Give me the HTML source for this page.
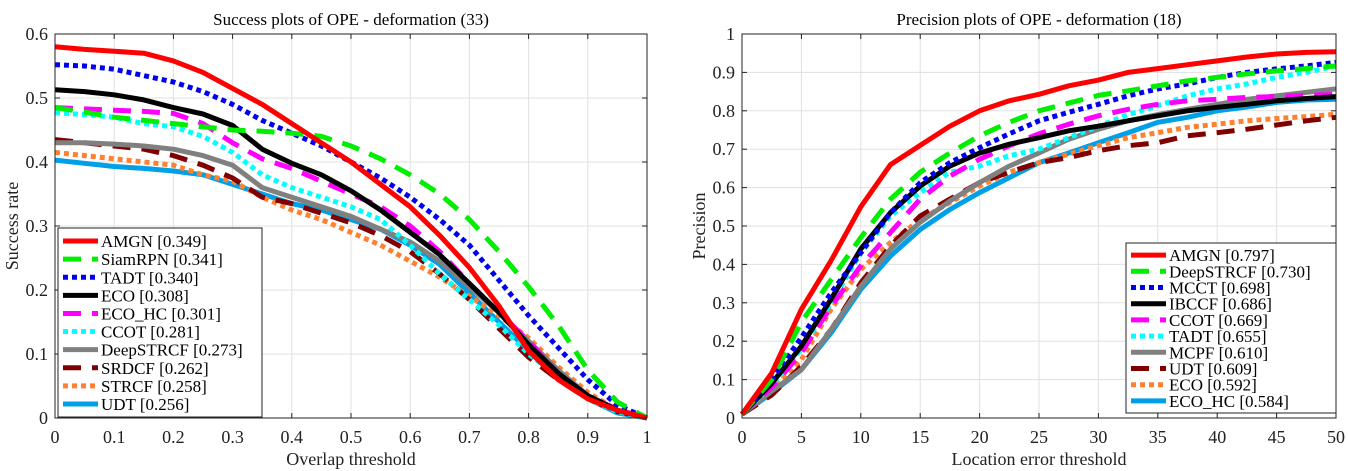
<!DOCTYPE html>
<html><head><meta charset="utf-8"><style>
body{margin:0;background:#fff;width:1348px;height:471px;overflow:hidden}
svg{display:block;font-family:"Liberation Serif",serif}
</style></head><body>
<svg id="chart" width="1348" height="471" xmlns="http://www.w3.org/2000/svg"></svg>
<script>
const sxVals=[0,0.05,0.1,0.15,0.2,0.25,0.3,0.35,0.4,0.45,0.5,0.55,0.6,0.65,0.7,0.75,0.8,0.85,0.9,0.95,1];
const sNames=["AMGN [0.349]","SiamRPN [0.341]","TADT [0.340]","ECO [0.308]","ECO_HC [0.301]","CCOT [0.281]","DeepSTRCF [0.273]","SRDCF [0.262]","STRCF [0.258]","UDT [0.256]"];
const sAMGN=[.58,.576,.573,.57,.558,.54,.515,.49,.46,.43,.40,.365,.33,.285,.235,.175,.105,.06,.03,.012,0];
const sSiam=[.485,.478,.47,.465,.46,.455,.45,.448,.445,.44,.425,.405,.38,.35,.31,.26,.205,.145,.075,.025,0];
const sTADT=[.552,.55,.545,.535,.525,.51,.49,.465,.445,.425,.40,.375,.345,.31,.27,.215,.16,.11,.06,.02,0];
const sECO=[.513,.51,.505,.497,.485,.475,.457,.42,.398,.38,.355,.325,.29,.255,.21,.165,.115,.07,.035,.012,0];
const sECOHC=[.485,.483,.481,.479,.476,.46,.43,.405,.39,.37,.35,.33,.30,.26,.21,.165,.12,.07,.035,.013,0];
const sCCOT=[.477,.474,.47,.46,.455,.44,.415,.38,.36,.345,.33,.31,.27,.225,.185,.145,.1,.065,.03,.01,0];
const sDeep=[.43,.43,.428,.425,.42,.41,.395,.36,.345,.33,.315,.295,.275,.245,.205,.165,.12,.075,.035,.012,0];
const sSRDCF=[.435,.43,.425,.42,.41,.395,.375,.345,.335,.32,.305,.285,.26,.225,.185,.14,.095,.06,.03,.01,0];
const sSTRCF=[.415,.41,.405,.4,.395,.38,.37,.345,.325,.31,.29,.27,.245,.22,.19,.16,.125,.08,.04,.012,0];
const sUDT=[.403,.398,.393,.39,.386,.38,.365,.35,.335,.325,.31,.295,.27,.24,.195,.15,.105,.065,.03,.008,0];
const pxVals=[0,2.5,5,7.5,10,12.5,15,17.5,20,22.5,25,27.5,30,32.5,35,37.5,40,42.5,45,47.5,50];
const pNames=["AMGN [0.797]","DeepSTRCF [0.730]","MCCT [0.698]","IBCCF [0.686]","CCOT [0.669]","TADT [0.655]","MCPF [0.610]","UDT [0.609]","ECO [0.592]","ECO_HC [0.584]"];
const pAMGN=[.01,.117,.283,.41,.55,.66,.71,.76,.80,.826,.843,.865,.88,.9,.91,.92,.93,.94,.948,.952,.954];
const pDeep=[.01,.1,.25,.36,.47,.57,.64,.69,.735,.77,.80,.82,.84,.852,.865,.878,.887,.896,.904,.91,.917];
const pMCCT=[.01,.1,.21,.326,.43,.535,.613,.665,.704,.74,.774,.796,.817,.839,.857,.87,.887,.9,.909,.917,.926];
const pIBCCF=[.01,.09,.187,.31,.44,.535,.604,.656,.69,.713,.73,.748,.76,.774,.787,.8,.809,.817,.826,.832,.837];
const pCCOT=[.01,.08,.17,.29,.396,.483,.57,.63,.674,.709,.74,.765,.787,.804,.817,.826,.83,.835,.837,.84,.843];
const pTADT=[.01,.085,.18,.3,.43,.526,.587,.64,.656,.683,.7,.73,.76,.79,.813,.839,.857,.87,.887,.9,.917];
const pMCPF=[.01,.07,.126,.23,.343,.44,.51,.565,.613,.656,.69,.726,.752,.774,.79,.804,.817,.83,.839,.848,.857];
const pUDT=[.01,.06,.135,.23,.352,.448,.526,.57,.613,.64,.665,.678,.696,.709,.717,.735,.743,.752,.763,.774,.783];
const pECO=[.01,.07,.152,.283,.387,.457,.517,.561,.604,.64,.665,.687,.709,.73,.743,.757,.765,.774,.78,.785,.791];
const pECOHC=[.01,.065,.126,.222,.335,.422,.491,.543,.587,.626,.665,.69,.717,.743,.77,.783,.8,.81,.822,.828,.83];
const sXTicks=["0","0.1","0.2","0.3","0.4","0.5","0.6","0.7","0.8","0.9","1"];
const sYTicks=["0","0.1","0.2","0.3","0.4","0.5","0.6"];
const pXTicks=["0","5","10","15","20","25","30","35","40","45","50"];
const pYTicks=["0","0.1","0.2","0.3","0.4","0.5","0.6","0.7","0.8","0.9","1"];

const NS="http://www.w3.org/2000/svg";
const svg=document.getElementById('chart');
function mk(tag,attrs,parent){const e=document.createElementNS(NS,tag);for(const k in attrs)e.setAttribute(k,attrs[k]);(parent||svg).appendChild(e);return e;}
const RED="#ff0000",GRN="#00ee00",BLU="#0000ee",BLK="#000",MAG="#ff00ff",CYN="#00ffff",GRY="#808080",MAR="#800000",ORG="#ff8030",SKY="#00a0e8";
const DASH="18 11",DOT="5 4";
const sCols=[[RED,null],[GRN,DASH],[BLU,DOT],[BLK,null],[MAG,DASH],[CYN,DOT],[GRY,null],[MAR,DASH],[ORG,DOT],[SKY,null]];
function plot(o){
  const g=mk('g',{});
  
  
  const X=v=>o.x0+(v-o.xmin)/(o.xmax-o.xmin)*(o.x1-o.x0);
  const Y=v=>o.y1-(v-o.ymin)/(o.ymax-o.ymin)*(o.y1-o.y0);
  o.xticks.forEach(t=>{const v=parseFloat(t);const x=X(v);
    const l=mk('line',{x1:x,x2:x,y1:o.y0,y2:o.y1,stroke:'#e0e0e0','stroke-width':1},g);
    
    const tx=mk('text',{x:x,y:o.y1+25,'font-size':18,'text-anchor':'middle',fill:'#222'},g);tx.textContent=t;
    
    mk('line',{x1:x,x2:x,y1:o.y1,y2:o.y1-5,stroke:'#222'},g);mk('line',{x1:x,x2:x,y1:o.y0,y2:o.y0+5,stroke:'#222'},g);});
  o.yticks.forEach(t=>{const v=parseFloat(t);const y=Y(v);
    const l=mk('line',{x1:o.x0,x2:o.x1,y1:y,y2:y,stroke:'#e0e0e0','stroke-width':1},g);
    
    const tx=mk('text',{x:o.x0-7,y:y+6,'font-size':18,'text-anchor':'end',fill:'#222'},g);tx.textContent=t;
    
    mk('line',{x1:o.x0,x2:o.x0+5,y1:y,y2:y,stroke:'#222'},g);mk('line',{x1:o.x1,x2:o.x1-5,y1:y,y2:y,stroke:'#222'},g);});
  for(let i=o.data.length-1;i>=0;i--){
    const vals=o.data[i];
    const pts=vals.map((v,j)=>X(o.xv[j]).toFixed(1)+','+Y(v).toFixed(1)).join(' ');
    const p=mk('polyline',{points:pts,fill:'none',stroke:sCols[i][0],'stroke-width':5,'stroke-linejoin':'round'},g);
    if(sCols[i][1])p.setAttribute('stroke-dasharray',sCols[i][1]);
    
    
  }
  const fr=mk('rect',{x:o.x0,y:o.y0,width:o.x1-o.x0,height:o.y1-o.y0,fill:'none',stroke:'#222','stroke-width':1},g);
  
  const ti=mk('text',{x:(o.x0+o.x1)/2,y:o.y0-9,'font-size':17,'text-anchor':'middle',fill:'#000'},g);ti.textContent=o.title;
  
  const xl=mk('text',{x:(o.x0+o.x1)/2,y:o.y1+47,'font-size':18,'text-anchor':'middle',fill:'#222'},g);xl.textContent=o.xlabel;
  
  const yl=mk('text',{x:0,y:0,'font-size':18,'text-anchor':'middle',fill:'#222',transform:`translate(${o.ylx},${(o.y0+o.y1)/2}) rotate(-90)`},g);yl.textContent=o.ylabel;
  
  const lg=mk('g',{},g);
  
  mk('rect',{x:o.lx,y:o.ly,width:o.lw,height:o.lh,fill:'#fff',stroke:'#222'},lg);
  const step=(o.lh-8)/o.names.length;
  o.names.forEach((n,i)=>{const cy=o.ly+4+step*(i+0.5);
    const ln=mk('line',{x1:o.lx+5,x2:o.lx+40,y1:cy,y2:cy,stroke:sCols[i][0],'stroke-width':5},lg);
    if(sCols[i][1])ln.setAttribute('stroke-dasharray',sCols[i][1]);
    const tx=mk('text',{x:o.lx+43,y:cy+6,'font-size':17,fill:'#000'},lg);tx.textContent=n;
    });
}
plot({name:'success-plot',x0:55,x1:647,y0:34,y1:418,xmin:0,xmax:1,ymin:0,ymax:0.6,xv:sxVals,xticks:sXTicks,yticks:sYTicks,
  data:[sAMGN,sSiam,sTADT,sECO,sECOHC,sCCOT,sDeep,sSRDCF,sSTRCF,sUDT],names:sNames,
  title:'Success plots of OPE - deformation (33)',xlabel:'Overlap threshold',ylabel:'Success rate',ylx:18,lx:58,ly:228,lw:204,lh:189});
plot({name:'precision-plot',x0:742,x1:1336,y0:34,y1:418,xmin:0,xmax:50,ymin:0,ymax:1,xv:pxVals,xticks:pXTicks,yticks:pYTicks,
  data:[pAMGN,pDeep,pMCCT,pIBCCF,pCCOT,pTADT,pMCPF,pUDT,pECO,pECOHC],names:pNames,
  title:'Precision plots of OPE - deformation (18)',xlabel:'Location error threshold',ylabel:'Precision',ylx:705,lx:1126,ly:243,lw:210,lh:170});
</script>
</body></html>
